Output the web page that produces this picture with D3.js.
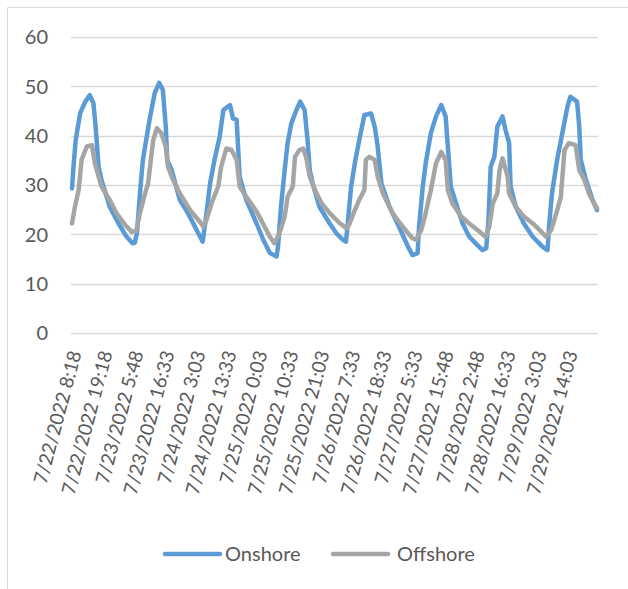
<!DOCTYPE html>
<html><head><meta charset="utf-8">
<script src="https://cdn.jsdelivr.net/npm/d3@7"></script>
<style>html,body{margin:0;padding:0;background:#fff;}svg{display:block;}</style>
</head><body>
<script>
// x = point index (15-min samples, 0..711), y = value
const onshoreIdx = [0,2,5,11,18,24,29,32,36,40,51,63,74,82,85,88,92,96,105,112,118,123,127,129,135,146,157,171,177,181,187,193,200,205,214,218,223,227,236,250,259,268,277,279,283,288,292,297,304,309,315,319,322,326,335,349,358,367,371,373,378,383,389,396,405,410,414,419,430,443,455,461,468,470,475,479,486,493,500,506,509,513,520,529,538,549,556,561,564,567,572,576,583,587,592,594,601,612,624,637,644,646,650,657,664,671,675,684,687,689,696,705,711];
const onshoreVal = [29.3,33.7,39.1,44.5,46.9,48.2,46.6,41.8,33.7,31,25.6,22.2,19.5,18.2,18.3,20.2,28.3,35.1,43.2,48.6,50.7,49.3,41.8,35.1,33,27,24.3,20.2,18.5,22.9,30.3,35.1,39.8,45.2,46.2,43.5,43.2,31.7,27,22.2,18.9,16.2,15.5,17.5,25.6,33,38.5,42.5,45.2,46.9,45.2,39.1,33,30.3,25.6,22.2,20.2,18.9,18.5,21.5,29.7,34.4,39.1,44.2,44.5,41.8,37.8,30.3,25.6,21.5,17.5,15.8,16.2,21.5,29.7,34.4,40.5,43.9,46.2,43.9,37.8,29.7,26.3,22.2,19.5,17.8,16.8,17.2,22.9,33.7,35.7,41.8,43.9,41.2,38.5,29.7,25.6,22.2,19.5,17.5,16.8,21.5,28.3,35.1,40.5,45.9,47.9,46.9,41.8,35.1,31,27,24.9];
const offshoreIdx = [0,4,9,13,20,27,31,36,40,51,60,72,81,87,92,99,103,110,115,121,127,130,137,146,160,175,178,182,189,198,202,209,216,223,227,236,250,254,268,274,281,288,292,299,302,308,313,317,322,329,338,349,363,372,376,383,389,396,398,403,410,414,421,434,448,461,466,473,479,486,493,500,506,509,515,527,538,549,560,565,570,576,579,583,590,592,601,612,624,633,642,649,656,662,667,673,682,687,694,700,707,711];
const offshoreVal = [22.2,25.6,29,35.1,37.8,38.1,34.4,31.7,29.7,27,24.3,21.9,20.5,20.7,24.3,28.3,30.3,39.1,41.5,40.5,37.8,33.7,31,28.3,24.9,22.2,21.5,22.9,26.3,29.7,33.7,37.4,37.1,35.1,29.7,27.6,24.6,23.5,19.5,18.2,20.2,23.6,27.6,29.7,35.7,37.1,37.4,35.7,31.7,29,26.3,24.3,22.2,21.2,22.2,24.9,27,29,35.1,35.7,35.1,31.7,28.3,24.3,21.5,19.2,18.9,20.9,24.3,29,34.4,36.7,35.1,29,26.3,23.6,22.2,20.9,19.5,21.5,26.3,28.3,33,35.4,31.7,28.3,25.6,23.6,22.2,20.9,19.5,20.9,24.3,27.6,37.1,38.5,38.1,33,31,28.3,26.3,25.3];
const tickLabels = ["7/22/2022 8:18","7/22/2022 19:18","7/23/2022 5:48","7/23/2022 16:33","7/24/2022 3:03","7/24/2022 13:33","7/25/2022 0:03","7/25/2022 10:33","7/25/2022 21:03","7/26/2022 7:33","7/26/2022 18:33","7/27/2022 5:33","7/27/2022 15:48","7/28/2022 2:48","7/28/2022 16:33","7/29/2022 3:03","7/29/2022 14:03"];
const labelStep = 42;
const yTicks = [0,10,20,30,40,50,60];
const seriesNames = ["Onshore","Offshore"];
const seriesColors = ["#5B9BD5","#A5A5A5"];

const W = 628, H = 589;
const svg = d3.select("body").append("svg").attr("width", W).attr("height", H);
const font = "Lato, 'Open Sans', sans-serif";

// chart frame
svg.append("path").attr("d", `M7.5,${H} V7.5 H${W}`).attr("fill","none").attr("stroke","#D9D9D9").attr("stroke-width",1);

const x = d3.scaleLinear().domain([0, 711]).range([72, 597]);
const y = d3.scaleLinear().domain([0, 60]).range([333, 37]);

// gridlines
svg.append("g").selectAll("line").data(yTicks).join("line")
  .attr("x1", 71).attr("x2", 598)
  .attr("y1", d => Math.round(y(d)) + 0.5).attr("y2", d => Math.round(y(d)) + 0.5)
  .attr("stroke", "#D9D9D9").attr("stroke-width", 1.3);

// y labels
svg.append("g").selectAll("text").data(yTicks).join("text")
  .attr("x", 48).attr("y", d => y(d)).attr("dy", "0.36em")
  .attr("text-anchor", "end").attr("font-family", font).attr("font-size", 20).attr("fill", "#595959")
  .text(d => d);

// x labels
svg.append("g").selectAll("text").data(tickLabels).join("text")
  .attr("transform", (d, i) => `translate(${x(i * labelStep) + 3},${351}) rotate(-75)`)
  .attr("dy", "0.36em").attr("text-anchor", "end")
  .attr("font-family", font).attr("font-size", 19).attr("fill", "#595959")
  .text(d => d);

const line = d3.line().x(d => x(d[0])).y(d => y(d[1]));
const offData = offshoreIdx.map((t, i) => [t, offshoreVal[i]]);
const onData = onshoreIdx.map((t, i) => [t, onshoreVal[i]]);

svg.append("path").datum(onData).attr("d", line).attr("fill", "none")
  .attr("stroke", seriesColors[0]).attr("stroke-width", 4.5).attr("stroke-linejoin", "round").attr("stroke-linecap", "round");
svg.append("path").datum(offData).attr("d", line).attr("fill", "none")
  .attr("stroke", seriesColors[1]).attr("stroke-width", 4.5).attr("stroke-linejoin", "round").attr("stroke-linecap", "round");

// legend
const legendX = [165, 333];
const lg = svg.append("g").selectAll("g").data(seriesNames).join("g")
  .attr("transform", (d, i) => `translate(${legendX[i]},554)`);
lg.append("line").attr("x1", 0).attr("x2", 55).attr("y1", 0).attr("y2", 0)
  .attr("stroke", (d, i) => seriesColors[i]).attr("stroke-width", 4.5).attr("stroke-linecap", "round");
lg.append("text").attr("x", (d, i) => i === 0 ? 60 : 64).attr("y", 0).attr("dy", "0.36em")
  .attr("font-family", font).attr("font-size", 20).attr("fill", "#595959").text(d => d);
</script>
</body></html>
